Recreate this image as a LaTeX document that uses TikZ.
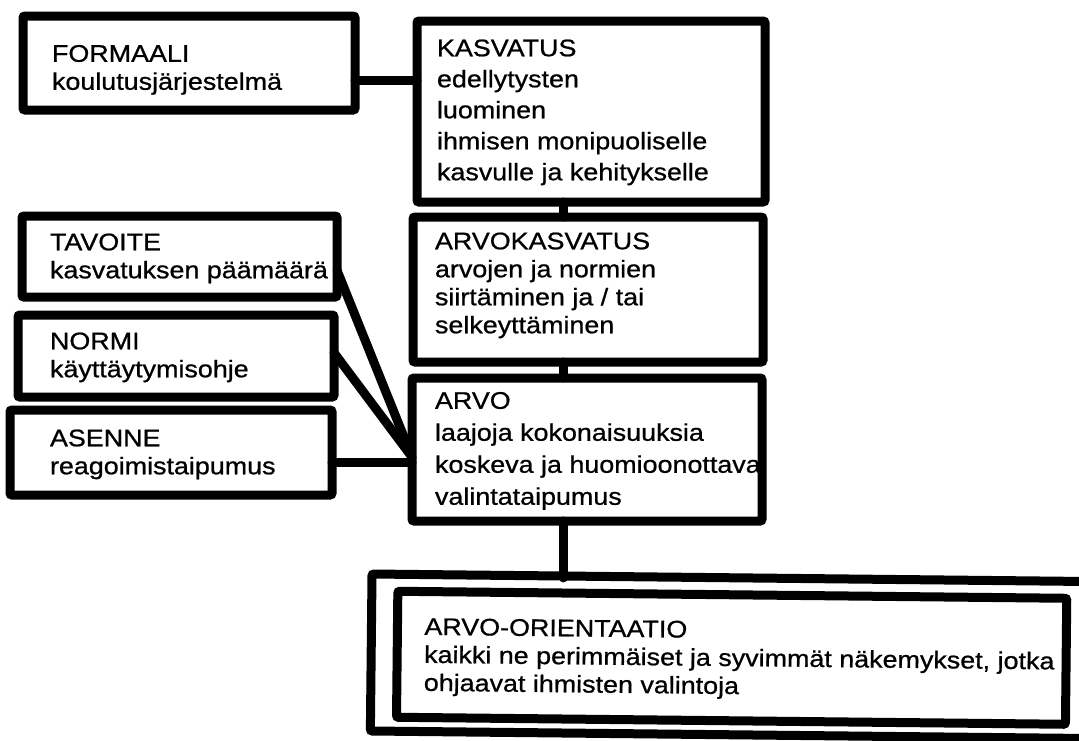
\documentclass[tikz,border=0pt]{standalone}
\usepackage{fontspec}
\setmainfont{Liberation Sans}[FakeStretch=1.12,FakeBold=0.8]
\usetikzlibrary{calc}
\tikzset{
  box/.style={draw=black, line width=9pt, rectangle, inner sep=0pt, outer sep=0pt, anchor=north west, rounded corners=2pt},
  txt/.style={anchor=north west, align=left, inner sep=0pt, outer sep=0pt, font=\fontsize{24}{28}\selectfont},
  conn/.style={draw=black, line width=9pt, line cap=round},
}
\begin{document}
\begin{tikzpicture}[x=1pt,y=-1pt]
\useasboundingbox (0,0) rectangle (1079,740);
\clip (0,0) rectangle (1079,740);
\fill[white] (0,0) rectangle (1079,740);

% boxes
\node[box, minimum width=332pt, minimum height=94pt]  (formaali) at (23,16) {};
\node[box, minimum width=348pt, minimum height=181pt] (kasvatus) at (417,21) {};
\node[box, minimum width=315pt, minimum height=81pt]  (tavoite)  at (22,216) {};
\node[box, minimum width=316pt, minimum height=82pt]  (normi)    at (18,315) {};
\node[box, minimum width=322pt, minimum height=85pt]  (asenne)   at (10,410) {};
\node[box, minimum width=350pt, minimum height=145pt] (arvokasv) at (413,217) {};
\node[box, minimum width=350pt, minimum height=143pt] (arvo)     at (412,378) {};
\begin{scope}[rotate around={-0.6:(372,575)}, transform shape]
\node[box, minimum width=750pt, minimum height=157pt] (outer)    at (372,574) {};
\node[box, minimum width=669pt, minimum height=126pt] (inner)    at (398,591) {};
\node[txt] (innerT) at (425,617.5)
  {ARVO-ORIENTAATIO\\kaikki ne perimmäiset ja syvimmät näkemykset, jotka\\ohjaavat ihmisten valintoja};
\end{scope}

% texts
\node[txt] (formaaliT) at (52,45) {FORMAALI\\koulutusjärjestelmä};
\node[txt] (tavoiteT) at (50,233.5) {TAVOITE\\kasvatuksen päämäärä};
\node[txt] (normiT) at (50,332.5) {NORMI\\käyttäytymisohje};
\node[txt] (asenneT) at (50,429.5) {ASENNE\\reagoimistaipumus};
\node[txt, font=\fontsize{24}{31}\selectfont] (kasvatusT) at (437,39.5)
  {KASVATUS\\edellytysten\\luominen\\ihmisen monipuoliselle\\kasvulle ja kehitykselle};
\node[txt] (arvokasvT) at (435,232.5)
  {ARVOKASVATUS\\arvojen ja normien\\siirtäminen ja / tai\\selkeyttäminen};
\node[txt, font=\fontsize{24}{32}\selectfont] (arvoT) at (435,392)
  {ARVO\\laajoja kokonaisuuksia\\koskeva ja huomioonottava\\valintataipumus};

% connectors
\coordinate (vx) at (563,0);
\coordinate (hy) at (0,80);
\coordinate (cy) at (0,457);
\draw[conn] (formaali.east |- hy) -- (kasvatus.west |- hy);
\draw[conn] (kasvatus.south -| vx) -- (arvokasv.north -| vx);
\draw[conn] (arvokasv.south -| vx) -- (arvo.north -| vx);
\draw[conn] (arvo.south -| vx) -- (outer.north -| vx);
\draw[conn] ($(tavoite.north east)!0.67!(tavoite.south east)$) -- (arvo.west |- cy);
\draw[conn] ($(normi.north east)!0.46!(normi.south east)$) -- (arvo.west |- cy);
\path ($(asenne.north east)!0.62!(asenne.south east)$) coordinate (ae);
\draw[conn] (ae) -- (arvo.west |- ae);
\end{tikzpicture}
\end{document}
